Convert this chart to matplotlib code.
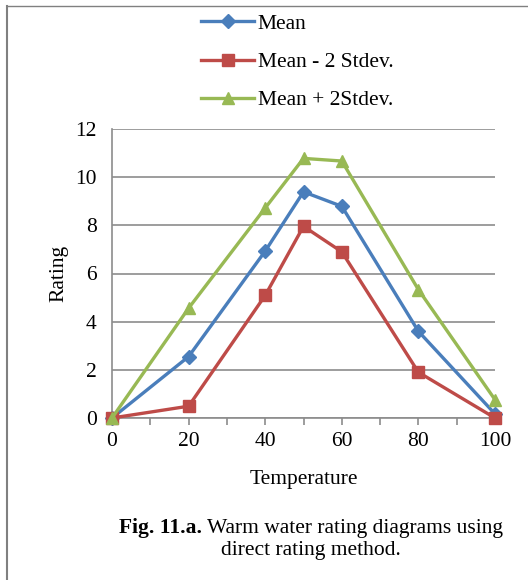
import matplotlib
matplotlib.use("Agg")
import matplotlib.pyplot as plt
from matplotlib.lines import Line2D
from matplotlib.ticker import MultipleLocator

temperature = [0, 20, 40, 50, 60, 80, 100]
mean = [0.0, 2.55, 6.93, 9.39, 8.79, 3.6, 0.17]
mean_minus = [0.0, 0.49, 5.09, 7.96, 6.9, 1.9, 0.0]
mean_plus = [0.0, 4.56, 8.72, 10.78, 10.67, 5.33, 0.76]
series_labels = ["Mean", "Mean - 2 Stdev.", "Mean + 2Stdev."]
x_ticks = [0, 20, 40, 60, 80, 100]
y_ticks = [0, 2, 4, 6, 8, 10, 12]

plt.rcParams['font.family'] = ['Liberation Serif', 'DejaVu Serif']
fs = 15.5

fig = plt.figure(figsize=(5.28, 5.8), dpi=100)
ax = fig.add_axes([112/528, 1-418/580, (495-112)/528, (418-129)/580])

blue = '#4A7EBB'
red = '#BE4B48'
green = '#98B954'
grid_c = '#8C8C8C'

l1, = ax.plot(temperature, mean, color=blue, lw=2.4, marker='D', ms=7, label=series_labels[0], zorder=2)
l2, = ax.plot(temperature, mean_minus, color=red, lw=2.4, marker='s', ms=8.5, label=series_labels[1], zorder=3)
l3, = ax.plot(temperature, mean_plus, color=green, lw=2.4, marker='^', ms=9, label=series_labels[2], zorder=4)

ax.set_xlim(0, 100)
ax.set_ylim(0, 12)
ax.set_xticks(x_ticks)
ax.xaxis.set_minor_locator(MultipleLocator(10))
ax.set_yticks(y_ticks)
for s in ['top', 'right']:
    ax.spines[s].set_visible(False)
for s in ['left', 'bottom']:
    ax.spines[s].set_color(grid_c)
    ax.spines[s].set_linewidth(1.2)
ax.yaxis.grid(True, color=grid_c, lw=1.2)
ax.set_axisbelow(True)
ax.tick_params(axis='x', which='both', direction='out', length=5, color=grid_c, width=1.2, labelsize=fs, pad=5)
ax.tick_params(axis='y', length=0, labelsize=fs, pad=11)
for m in [l1, l2, l3]:
    m.set_clip_on(False)

ax.set_xlabel("Temperature", fontsize=fs, labelpad=14)
ax.set_ylabel("Rating", fontsize=fs, labelpad=5)

fig.legend(handles=[l1, l2, l3], loc='upper left', bbox_to_anchor=(192/528, 1-5/580),
           frameon=False, fontsize=fs, handlelength=2.5, labelspacing=0.85,
           handletextpad=0.15, borderaxespad=0)

# caption: bold part + regular part, centred together
renderer = fig.canvas.get_renderer()
cx = 311
cap_bold = "Fig. 11.a."
cap_rest = " Warm water rating diagrams using"
tb = fig.text(0, 1-528/580, cap_bold, fontsize=fs, fontweight='bold', va='center', ha='left')
tr = fig.text(0, 1-528/580, cap_rest, fontsize=fs, va='center', ha='left')
wb = tb.get_window_extent(renderer).width
wr = tr.get_window_extent(renderer).width
x0 = cx - (wb + wr) / 2
tb.set_x(x0/528)
tr.set_x((x0 + wb)/528)
fig.text(cx/528, 1-551/580, "direct rating method.", ha='center', va='center', fontsize=fs)

fig.add_artist(Line2D([6.5/528, 6.5/528], [0, 1-5.5/580], transform=fig.transFigure, color='#808080', lw=1.5))
fig.add_artist(Line2D([6.5/528, 1], [1-5.5/580, 1-5.5/580], transform=fig.transFigure, color='#808080', lw=1.0))

fig.savefig("out.png", dpi=100)
